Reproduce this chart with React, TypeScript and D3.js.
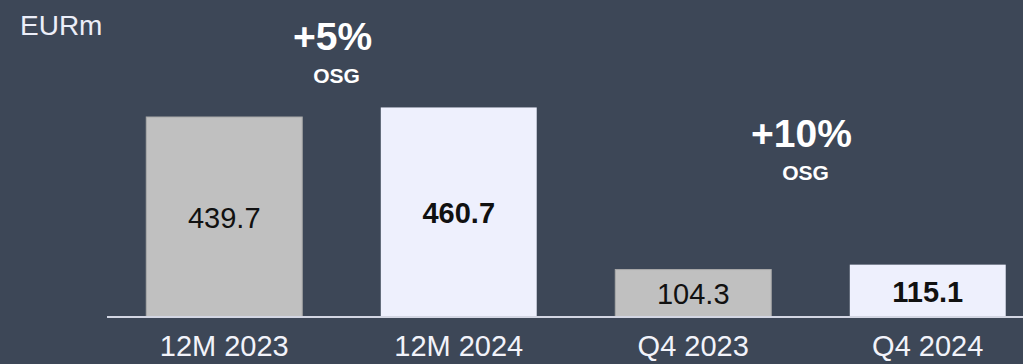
import React from "react";
import * as d3 from "d3";

const categories = ["12M 2023", "12M 2024", "Q4 2023", "Q4 2024"];
const values = [439.7, 460.7, 104.3, 115.1];
const highlight = [false, true, false, true];
const growthLabels = ["+5%", "+10%"];
const growthSub = ["OSG", "OSG"];
const unitLabel = "EURm";

const W = 1023;
const H = 364;
const FONT = "'Liberation Sans', Arial, Helvetica, sans-serif";

export default function App() {
  const baseline = 317;
  const x = d3
    .scaleBand<string>()
    .domain(categories)
    .range([107, 1045])
    .paddingInner(0.335)
    .paddingOuter(0.1675);
  const y = d3.scaleLinear().domain([0, 439.7]).range([baseline, 117]);

  const pairs = [
    [0, 1],
    [2, 3],
  ];
  const growthY = [50, 147];

  return (
    <svg
      width={W}
      height={H}
      style={{ position: "absolute", left: 0, top: 0, display: "block" }}
      fontFamily={FONT}
    >
      <rect x={0} y={0} width={W} height={H} fill="#3d4757" />
      <text x={20} y={35} fontSize={28} fill="#eceef8">
        {unitLabel}
      </text>
      {categories.map((c, i) => {
        const bx = x(c) as number;
        const bw = x.bandwidth();
        const top = y(values[i]);
        const mid = (top + baseline) / 2;
        return (
          <g key={c}>
            <rect
              x={bx}
              y={top}
              width={bw}
              height={baseline - top}
              fill={highlight[i] ? "#eef0fd" : "#c0c0c0"}
              stroke={highlight[i] ? "none" : "#a9a9a9"}
              strokeWidth={1}
            />
            <text
              x={bx + bw / 2}
              y={mid + 11}
              textAnchor="middle"
              fontSize={29}
              fontWeight={highlight[i] ? 700 : 400}
              fill="#111111"
            >
              {values[i].toFixed(1)}
            </text>
            <text
              x={bx + bw / 2}
              y={356}
              textAnchor="middle"
              fontSize={29}
              fill="#f2f3fa"
            >
              {c}
            </text>
          </g>
        );
      })}
      <line x1={107} x2={W} y1={baseline} y2={baseline} stroke="#d3d6e3" strokeWidth={2} />
      {pairs.map((p, k) => {
        const c0 = (x(categories[p[0]]) as number) + x.bandwidth() / 2;
        const c1 = (x(categories[p[1]]) as number) + x.bandwidth() / 2;
        const m = (c0 + c1) / 2;
        return (
          <g key={k}>
            <text
              x={m - 9}
              y={growthY[k]}
              textAnchor="middle"
              fontSize={39}
              fontWeight={700}
              fill="#ffffff"
            >
              {growthLabels[k]}
            </text>
            <text
              x={m - 5}
              y={growthY[k] + 33}
              textAnchor="middle"
              fontSize={21}
              fontWeight={700}
              fill="#ffffff"
            >
              {growthSub[k]}
            </text>
          </g>
        );
      })}
    </svg>
  );
}
